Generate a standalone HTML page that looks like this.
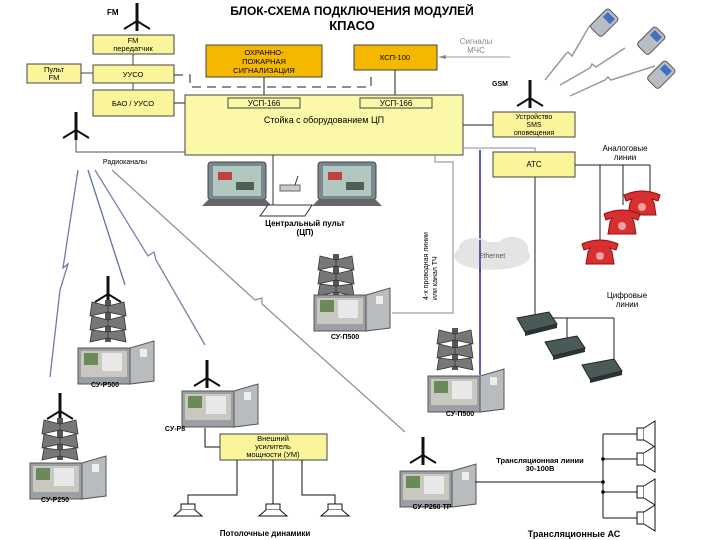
<!DOCTYPE html>
<html><head><meta charset="utf-8"><style>
body{margin:0;background:#fff}
svg{display:block;font-family:"Liberation Sans",sans-serif}
</style></head><body>
<svg width="720" height="540" viewBox="0 0 720 540" xmlns="http://www.w3.org/2000/svg">
<defs>
<g id="cab">
<rect x="0" y="3" width="52" height="36" fill="#9aa0a4" stroke="#555"/>
<rect x="3" y="6" width="46" height="26" fill="#c8c8c0"/>
<rect x="6" y="8" width="14" height="12" fill="#6a8a5a"/>
<rect x="24" y="8" width="20" height="18" fill="#e8e8e8"/>
<polygon points="52,3 76,-4 76,36 52,39" fill="#b8bcbe" stroke="#555"/>
<rect x="62" y="4" width="7" height="8" fill="#eee"/>
</g>
<g id="ant">
<line x1="0" y1="0" x2="0" y2="28" stroke="#111" stroke-width="3"/>
<path d="M-13,26 L0,18 L13,26" fill="none" stroke="#111" stroke-width="2"/>
</g>
<g id="horns">
<rect x="-3" y="0" width="6" height="42" fill="#555"/>
<path d="M0,6 L-16,2 L-18,16 L0,12Z M0,6 L16,2 L18,16 L0,12Z M0,20 L-16,16 L-18,30 L0,26Z M0,20 L16,16 L18,30 L0,26Z M0,32 L-16,30 L-18,42 L0,38Z M0,32 L16,30 L18,42 L0,38Z" fill="#777" stroke="#333" stroke-width="0.8"/>
</g>
<g id="spk"><rect x="-7" y="0" width="14" height="6" fill="#fff" stroke="#111"/><path d="M-7,6 L-14,12 L14,12 L7,6" fill="#fff" stroke="#111"/></g>
<g id="hs"><rect x="0" y="-6" width="7" height="12" fill="#fff" stroke="#111"/><path d="M7,-6 L18,-13 L18,13 L7,6" fill="#fff" stroke="#111"/></g>
<g id="rph"><path d="M-18,0 Q0,-8 18,0 L16,6 L10,4 L12,8 L14,20 L-14,20 L-12,8 L-10,4 L-16,6Z" fill="#d83030" stroke="#901010"/><circle cx="0" cy="12" r="4" fill="#f0a0a0"/></g>
<g id="dph"><polygon points="-18,0 14,-6 22,6 -10,14" fill="#4a5a58" stroke="#222"/><polygon points="-10,14 22,6 22,10 -10,18" fill="#2a3432"/></g>
<g id="mon"><rect x="0" y="0" width="58" height="38" rx="3" fill="#7a8890" stroke="#444"/><rect x="5" y="4" width="48" height="30" fill="#b0c8c0"/><rect x="10" y="10" width="14" height="8" fill="#c04040"/><rect x="28" y="20" width="18" height="8" fill="#506050"/><polygon points="-6,44 64,44 58,38 0,38" fill="#666"/></g>
<g id="cell"><rect x="-8" y="-12" width="16" height="26" rx="3" transform="rotate(45)" fill="#b8bcc4" stroke="#555"/><rect x="-5" y="-9" width="10" height="7" transform="rotate(45)" fill="#4070c0"/></g>
</defs>

<!-- title -->
<text x="352" y="15" font-size="12" font-weight="bold" text-anchor="middle">БЛОК-СХЕМА ПОДКЛЮЧЕНИЯ  МОДУЛЕЙ</text>
<text x="352" y="30" font-size="13" font-weight="bold" text-anchor="middle">КПАСО</text>
<text x="107" y="15" font-size="8" font-weight="bold">FM</text>
<use href="#ant" x="137" y="3"/>

<g font-size="7.5" text-anchor="middle">
<rect x="93" y="35" width="81" height="19" fill="#faf59a" stroke="#444"/>
<text x="133" y="43">FM</text><text x="133" y="51">передатчик</text>
<rect x="27" y="64" width="54" height="19" fill="#faf59a" stroke="#444"/>
<text x="54" y="72">Пульт</text><text x="54" y="80">FM</text>
<rect x="93" y="65" width="81" height="18" fill="#faf59a" stroke="#444"/>
<text x="133" y="77">УУСО</text>
<rect x="93" y="90" width="81" height="26" fill="#faf59a" stroke="#444"/>
<text x="133" y="106">БАО / УУСО</text>
<line x1="133" y1="54" x2="133" y2="65" stroke="#444"/><line x1="133" y1="83" x2="133" y2="90" stroke="#444"/>
<line x1="81" y1="73" x2="93" y2="73" stroke="#444"/>
<rect x="206" y="45" width="116" height="32" fill="#f5b800" stroke="#444"/>
<text x="264" y="55">ОХРАННО-</text><text x="264" y="64">ПОЖАРНАЯ</text><text x="264" y="73">СИГНАЛИЗАЦИЯ</text>
<rect x="354" y="45" width="83" height="25" fill="#f5b800" stroke="#444"/>
<text x="395" y="60">КСП-100</text>
</g>
<text x="476" y="44" font-size="8" fill="#888" text-anchor="middle">Сигналы</text>
<text x="476" y="53" font-size="8" fill="#888" text-anchor="middle">МЧС</text>
<line x1="442" y1="57" x2="510" y2="57" stroke="#999"/><polygon points="438,57 446,55 446,59" fill="#888"/>
<path d="M174,75 H190 V87 H371 V76" fill="none" stroke="#222" stroke-dasharray="9,6"/>
<line x1="264" y1="77" x2="264" y2="98" stroke="#222"/><line x1="395" y1="70" x2="395" y2="98" stroke="#222"/>
<line x1="174" y1="103" x2="185" y2="103" stroke="#222"/>

<rect x="185" y="95" width="278" height="60" fill="#fbf8a8" stroke="#444"/>
<rect x="228" y="98" width="72" height="10" fill="#fbf8a8" stroke="#444"/>
<rect x="360" y="98" width="72" height="10" fill="#fbf8a8" stroke="#444"/>
<text x="264" y="106" font-size="8" text-anchor="middle">УСП-166</text>
<text x="396" y="106" font-size="8" text-anchor="middle">УСП-166</text>
<text x="324" y="123" font-size="9" text-anchor="middle">Стойка с оборудованием ЦП</text>

<use href="#ant" x="76" y="112"/>
<path d="M76,140 V152 H185" fill="none" stroke="#555"/>
<text x="125" y="164" font-size="7" text-anchor="middle">Радиоканалы</text>

<use href="#mon" x="208" y="162"/><use href="#mon" x="318" y="162"/>
<polygon points="268,205 312,205 305,216 260,216" fill="#fff" stroke="#333"/>
<rect x="280" y="185" width="20" height="6" fill="#ccc" stroke="#666"/><line x1="295" y1="185" x2="298" y2="176" stroke="#333"/>
<line x1="273" y1="155" x2="273" y2="205" stroke="#333"/>
<text x="305" y="226" font-size="8" font-weight="bold" text-anchor="middle">Центральный пульт</text>
<text x="305" y="235" font-size="8" font-weight="bold" text-anchor="middle">(ЦП)</text>

<!-- right side -->
<text x="500" y="86" font-size="7" font-weight="bold" text-anchor="middle">GSM</text>
<use href="#ant" x="530" y="80"/>
<rect x="493" y="112" width="82" height="25" fill="#faf59a" stroke="#444"/>
<g font-size="7" text-anchor="middle"><text x="534" y="119">Устройство</text><text x="534" y="127">SMS</text><text x="534" y="135">оповещения</text></g>
<line x1="463" y1="125" x2="493" y2="125" stroke="#222"/>
<rect x="493" y="152" width="82" height="25" fill="#faf59a" stroke="#444"/>
<text x="534" y="167" font-size="8" text-anchor="middle">АТС</text>
<path d="M463,148 H535 V152" fill="none" stroke="#889"/>
<line x1="480" y1="150" x2="480" y2="375" stroke="#2a2a9a" stroke-width="1.5"/>
<path d="M435,155 V162 H453 V313 H392" fill="none" stroke="#888"/>
<text transform="translate(428,300) rotate(-90)" font-size="7">4-х проводная линии</text>
<text transform="translate(437,300) rotate(-90)" font-size="7">или канал ТЧ</text>
<ellipse cx="492" cy="256" rx="38" ry="14" fill="#e4e4e4"/><ellipse cx="475" cy="248" rx="16" ry="10" fill="#e4e4e4"/><ellipse cx="512" cy="248" rx="16" ry="11" fill="#e4e4e4"/>
<line x1="480" y1="240" x2="480" y2="272" stroke="#2a2a9a" stroke-width="1.5"/>
<text x="492" y="258" font-size="7" fill="#555" text-anchor="middle">Ethernet</text>
<line x1="535" y1="177" x2="535" y2="330" stroke="#222"/>
<path d="M575,165 H650 M600,165 V245 M623,165 V205 M650,165 V192" fill="none" stroke="#222"/>
<text x="625" y="151" font-size="8" text-anchor="middle">Аналоговые</text><text x="625" y="160" font-size="8" text-anchor="middle">линии</text>
<use href="#rph" x="642" y="195"/><use href="#rph" x="622" y="214"/><use href="#rph" x="600" y="244"/>
<path d="M535,318 H614 M567,318 V342 M614,318 V364" fill="none" stroke="#222"/>
<text x="627" y="298" font-size="8" text-anchor="middle">Цифровые</text><text x="627" y="307" font-size="8" text-anchor="middle">линии</text>
<use href="#dph" x="535" y="318"/><use href="#dph" x="563" y="342"/><use href="#dph" x="600" y="365"/>

<!-- GSM phones -->
<g fill="none" stroke="#999" stroke-width="1.5">
<path d="M545,80 L565,55 L568,52 L572,56 L590,25"/><path d="M560,85 L590,68 L592,64 L596,67 L625,48"/><path d="M570,96 L605,80 L608,77 L611,80 L655,66"/>
</g>
<use href="#cell" x="605" y="22"/><use href="#cell" x="652" y="40"/><use href="#cell" x="662" y="74"/>

<!-- radio lines -->
<g fill="none" stroke-width="1.3">
<path d="M78,170 L63,268 L68,264 L60,290 L50,377" stroke="#8070b0"/>
<path d="M88,170 L125,285" stroke="#6070b0"/>
<path d="M95,170 L148,256 L154,252 L156,260 L205,345" stroke="#8080a8"/>
<path d="M112,170 L255,300 L262,298 L262,304 L405,432" stroke="#9090a0"/>
</g>

<!-- units -->
<use href="#horns" x="336" y="254"/><use href="#cab" x="314" y="292"/>
<text x="345" y="339" font-size="7" font-weight="bold" text-anchor="middle">СУ-П500</text>
<use href="#horns" x="455" y="328"/><use href="#cab" x="428" y="373"/>
<text x="460" y="416" font-size="7" font-weight="bold" text-anchor="middle">СУ-П500</text>
<use href="#ant" x="108" y="276"/><use href="#horns" x="108" y="300"/><use href="#cab" x="78" y="345"/>
<text x="105" y="387" font-size="7" font-weight="bold" text-anchor="middle">СУ-Р500</text>
<use href="#ant" x="60" y="393"/><use href="#horns" x="60" y="418"/><use href="#cab" x="30" y="460"/>
<text x="55" y="502" font-size="7" font-weight="bold" text-anchor="middle">СУ-Р250</text>
<use href="#ant" x="207" y="360"/><use href="#cab" x="182" y="388"/>
<text x="175" y="431" font-size="7" font-weight="bold" text-anchor="middle">СУ-Р8</text>
<path d="M205,428 V447 H220" fill="none" stroke="#111"/>
<rect x="220" y="434" width="107" height="26" fill="#faf59a" stroke="#444"/>
<g font-size="7.5" text-anchor="middle"><text x="273" y="441">Внешний</text><text x="273" y="449">усилитель</text><text x="273" y="457">мощности (УМ)</text></g>
<path d="M237,460 V495 H188 V504 M273,460 V504 M302,460 V495 H335 V504" fill="none" stroke="#111"/>
<use href="#spk" x="188" y="504"/><use href="#spk" x="273" y="504"/><use href="#spk" x="335" y="504"/>
<text x="265" y="536" font-size="8" font-weight="bold" text-anchor="middle">Потолочные динамики</text>
<use href="#ant" x="423" y="437"/><use href="#cab" x="400" y="468"/>
<text x="432" y="509" font-size="7" font-weight="bold" text-anchor="middle">СУ-Р250 ТР</text>
<text x="540" y="463" font-size="7.5" font-weight="bold" text-anchor="middle">Трансляционная линии</text>
<text x="540" y="471" font-size="7.5" font-weight="bold" text-anchor="middle">30-100В</text>
<path d="M475,482 H603 M603,434 V518 M603,434 H637 M603,459 H637 M603,492 H637 M603,518 H637" fill="none" stroke="#111"/>
<circle cx="603" cy="459" r="1.8"/><circle cx="603" cy="482" r="1.8"/><circle cx="603" cy="492" r="1.8"/>
<use href="#hs" x="637" y="434"/><use href="#hs" x="637" y="459"/><use href="#hs" x="637" y="492"/><use href="#hs" x="637" y="518"/>
<text x="574" y="537" font-size="9" font-weight="bold" text-anchor="middle">Трансляционные АС</text>
</svg>
</body></html>
